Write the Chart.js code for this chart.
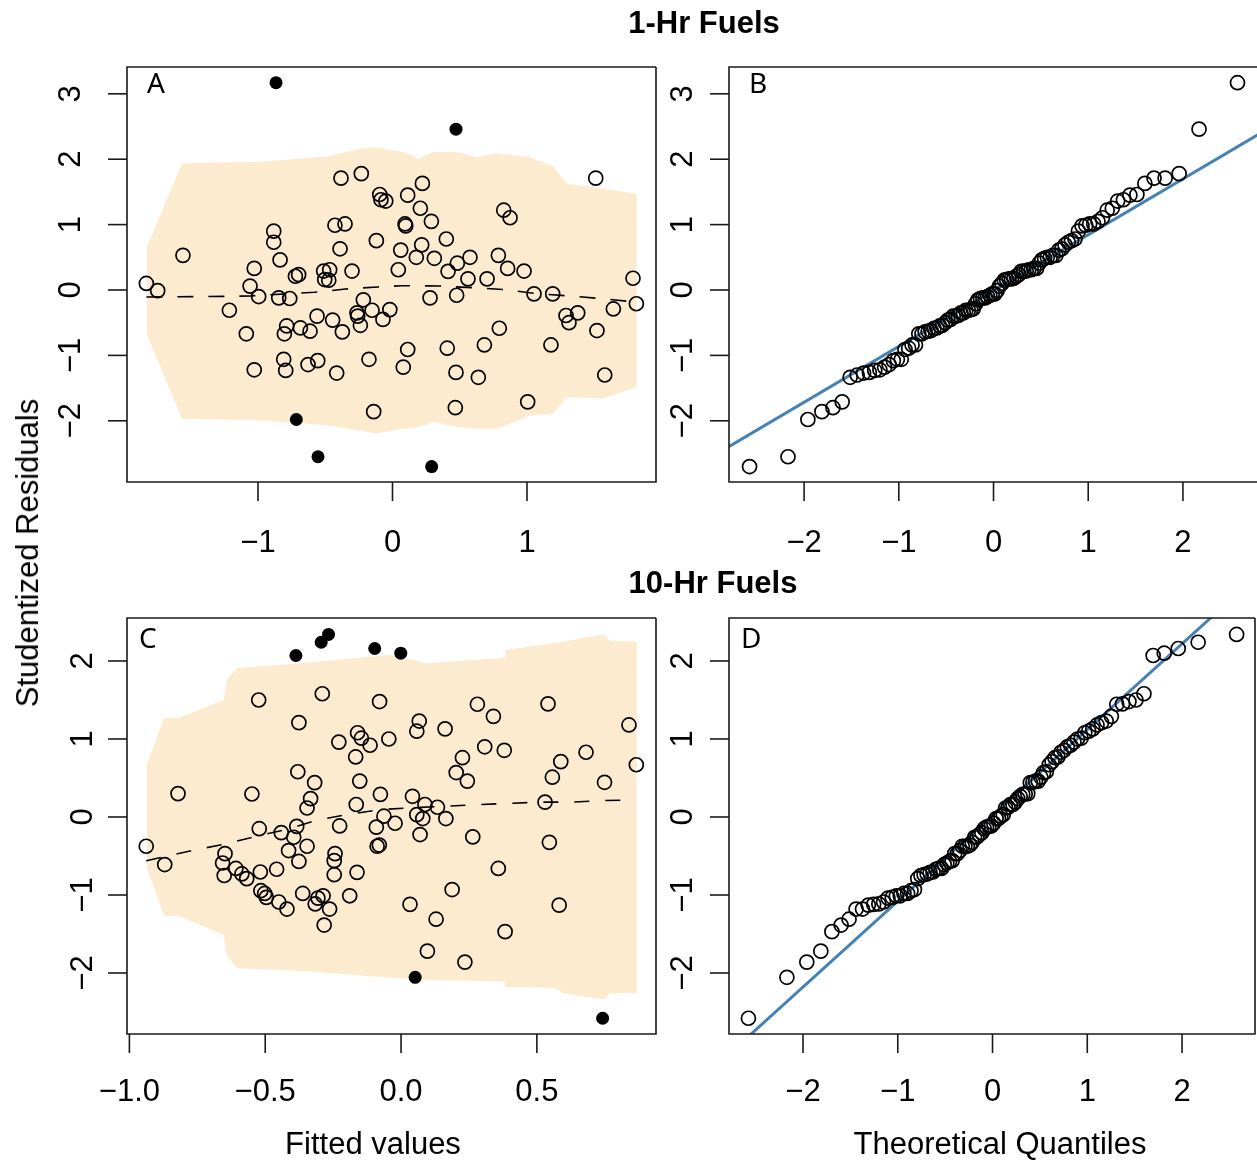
<!DOCTYPE html>
<html>
<head>
<meta charset="utf-8">
<script src="https://cdn.jsdelivr.net/npm/chart.js@4"></script>
<style>
  body { margin: 0; background: #fff; }
  #wrap { position: relative; width: 1257px; height: 1161px; overflow: hidden; }
  canvas { position: absolute; left: 0; top: 0; }
  .txt { position: absolute; transform: translate(-50%, -50%); white-space: nowrap;
         font-family: "Liberation Sans", Arial, Helvetica, sans-serif; font-size: 31px; color: #000; }
  .bold { font-weight: bold; }
  .rot { transform: translate(-50%, -50%) rotate(-90deg); }
</style>
</head>
<body>
<div id="wrap">
  <canvas id="pA" width="1257" height="1161"></canvas>
  <canvas id="pB" width="1257" height="1161"></canvas>
  <canvas id="pC" width="1257" height="1161"></canvas>
  <canvas id="pD" width="1257" height="1161"></canvas>
  <div class="txt bold" style="left:704px;top:23px">1-Hr Fuels</div>
  <div class="txt bold" style="left:713px;top:583px">10-Hr Fuels</div>
  <div class="txt rot" style="left:28px;top:553px">Studentized Residuals</div>
  <div class="txt" style="left:373px;top:1144px">Fitted values</div>
  <div class="txt" style="left:1000px;top:1144px">Theoretical Quantiles</div>
</div>
<script>
// ---- 1-Hr fuels: residuals vs fitted (panel A)
const aFitted = [-1.830,-1.746,-1.558,-1.213,-1.087,-1.028,-1.028,-1.059,-0.995,-0.883,-0.883,-0.836,-0.846,-0.764,-0.809,-0.794,-0.787,-0.804,-0.722,-0.698,-0.685,-0.613,-0.628,-0.556,-0.561,-0.512,-0.467,-0.504,-0.474,-0.445,-0.373,-0.415,-0.428,-0.353,-0.383,-0.232,-0.390,-0.301,-0.217,-0.264,-0.259,-0.239,-0.152,-0.071,-0.020,-0.175,-0.140,-0.120,-0.095,-0.086,-0.050,
  0.222,0.113,0.207,0.093,0.098,0.289,0.400,0.061,0.217,0.177,0.311,0.043,0.413,0.482,0.576,0.561,0.703,0.787,0.856,0.978,0.827,0.874,0.279,0.477,1.052,1.191,1.511,1.788,1.813,1.642,1.290,1.377,1.312,1.520,0.794,0.683,1.178,0.113,0.407,0.080,0.472,0.638,1.578,0.467,1.005]
const aResid = [0.10,-0.01,0.53,-0.31,-0.67,-1.22,0.33,0.06,-0.10,0.90,0.73,0.46,-0.12,-0.13,-1.06,-1.23,-0.55,-0.67,0.21,0.235,-0.58,-0.63,-1.14,-1.08,-0.40,0.29,0.31,0.16,0.15,-0.46,-0.64,-1.27,0.99,1.01,1.71,1.78,0.63,0.29,-0.15,-0.35,-0.40,-0.54,-0.31,-0.45,-0.30,-1.06,-1.86,0.755,1.46,1.38,1.36,
  1.63,1.45,1.25,1.01,0.98,1.05,0.78,0.61,0.69,0.50,0.485,0.31,0.285,0.41,0.50,0.17,0.17,0.53,0.33,0.29,1.22,1.105,-0.12,-0.08,-0.06,-0.06,1.71,0.18,-0.21,-0.29,-0.39,-0.35,-0.50,-0.62,-0.585,-0.84,-0.84,-0.91,-0.89,-1.18,-1.26,-1.335,-1.30,-1.80,-1.71]
const aOutFitted = [-0.866,-0.715,-0.554,0.472,0.291]
const aOutResid = [3.17,-1.98,-2.55,2.46,-2.70]
const aSmoothX = [-1.83,-1.25,-1.05,-0.58,-0.35,-0.11,0.07,0.35,0.60,0.84,1.07,1.31,1.54,1.79]
const aSmoothY = [-0.107,-0.097,-0.09,-0.035,0.015,0.046,0.066,0.06,0.035,0.005,-0.056,-0.09,-0.13,-0.18]
const aBandX = [-1.825,-1.565,-0.983,-0.487,-0.239,-0.127,0.081,0.192,0.303,0.477,0.626,0.774,1.022,1.196,1.295,1.568,1.816]
const aBandUpper = [0.66,1.94,1.96,2.04,2.16,2.18,2.11,2.01,2.11,2.11,2.03,2.09,2.03,1.89,1.63,1.55,1.47]
const aBandLower = [-0.69,-1.97,-1.99,-2.07,-2.15,-2.20,-2.12,-2.10,-2.02,-2.09,-2.12,-2.12,-1.92,-1.89,-1.64,-1.66,-1.48]

// ---- normal QQ plots (panels B and D), 100 points each
const theoQuantiles = [-2.576,-2.170,-1.960,-1.812,-1.695,-1.598,-1.514,-1.440,-1.372,-1.311,-1.254,-1.200,-1.150,-1.103,-1.058,-1.015,-0.974,-0.935,-0.896,-0.860,-0.824,-0.789,-0.755,-0.722,-0.690,-0.659,-0.628,-0.598,-0.568,-0.539,-0.510,-0.482,-0.454,-0.426,-0.399,-0.372,-0.345,-0.319,-0.292,-0.266,-0.240,-0.215,-0.189,-0.164,-0.138,-0.113,-0.088,-0.063,-0.038,-0.013,
  0.013,0.038,0.063,0.088,0.113,0.138,0.164,0.189,0.215,0.240,0.266,0.292,0.319,0.345,0.372,0.399,0.426,0.454,0.482,0.510,0.539,0.568,0.598,0.628,0.659,0.690,0.722,0.755,0.789,0.824,0.860,0.896,0.935,0.974,1.015,1.058,1.103,1.150,1.200,1.254,1.311,1.372,1.440,1.514,1.598,1.695,1.812,1.960,2.170,2.576]
const bSample = [-2.70,-2.55,-1.98,-1.86,-1.80,-1.71,-1.335,-1.30,-1.27,-1.26,-1.23,-1.22,-1.18,-1.14,-1.08,-1.06,-1.06,-0.91,-0.89,-0.84,-0.84,-0.67,-0.67,-0.64,-0.63,-0.62,-0.585,-0.58,-0.55,-0.54,-0.50,-0.46,-0.45,-0.40,-0.40,-0.39,-0.35,-0.35,-0.31,-0.31,-0.30,-0.29,-0.21,-0.15,-0.13,-0.12,-0.12,-0.10,-0.08,-0.06,-0.06,-0.01,
  0.06,0.10,0.15,0.16,0.17,0.17,0.18,0.21,0.235,0.285,0.29,0.29,0.31,0.31,0.33,0.33,0.41,0.46,0.485,0.50,0.50,0.53,0.53,0.61,0.63,0.69,0.73,0.755,0.78,0.90,0.98,0.99,1.01,1.01,1.05,1.105,1.22,1.25,1.36,1.38,1.45,1.46,1.63,1.71,1.71,1.78,2.46,3.17]
const bLineX = [-2.8, 2.8]
const bLineY = [-2.40, 2.38]

// ---- 10-Hr fuels: residuals vs fitted (panel C)
const cFitted = [-0.524,-0.290,-0.079,-0.376,-0.160,-0.146,-0.114,-0.229,-0.167,-0.045,-0.380,-0.318,-0.152,-0.821,-0.549,-0.333,-0.346,-0.165,-0.076,-0.063,-0.091,-0.226,-0.088,-0.080,-0.522,-0.441,-0.384,-0.395,-0.346,-0.414,-0.376,-0.243,-0.246,-0.246,-0.162,-0.938,-0.870,-0.648,-0.657,-0.651,-0.608,-0.586,-0.568,-0.518,-0.458,-0.516,-0.502,-0.496,-0.450,-0.420,-0.362,-0.316,-0.306,-0.287,-0.263,-0.283,-0.189,
  0.281,0.340,0.541,0.839,0.067,0.058,0.162,0.308,0.380,0.681,0.226,0.588,0.203,0.244,0.557,0.866,0.749,0.042,0.088,0.134,0.530,0.058,0.080,0.165,-0.022,0.070,0.264,0.546,0.358,0.188,0.033,0.582,0.129,0.383,0.097,0.235]
const cResid = [1.50,1.58,1.48,1.21,1.08,1.01,0.92,0.96,0.77,1.00,0.58,0.44,0.46,0.30,0.295,0.235,0.115,0.16,0.29,0.01,-0.13,-0.115,-0.375,-0.36,-0.15,-0.20,-0.12,-0.26,-0.375,-0.43,-0.57,-0.47,-0.56,-0.74,-0.71,-0.375,-0.61,-0.47,-0.59,-0.75,-0.66,-0.73,-0.79,-0.705,-0.67,-0.945,-0.98,-1.03,-1.09,-1.18,-0.98,-1.115,-1.04,-1.01,-1.18,-1.385,-1.01,
  1.445,1.29,1.45,1.18,1.23,1.10,1.13,0.90,0.855,0.83,0.76,0.71,0.57,0.46,0.51,0.67,0.445,0.265,0.16,0.125,0.19,0.03,-0.02,-0.02,-0.08,-0.225,-0.255,-0.325,-0.66,-0.93,-1.12,-1.13,-1.31,-1.47,-1.72,-1.86]
const cOutFitted = [-0.387,-0.294,-0.267,-0.097,-0.001,0.052,0.742]
const cOutResid = [2.07,2.24,2.34,2.16,2.10,-2.055,-2.58]
const cSmoothX = [-0.938,-0.770,-0.653,-0.536,-0.422,-0.309,-0.199,-0.080,0.045,0.162,0.278,0.395,0.506,0.628,0.745,0.866]
const cSmoothY = [-0.56,-0.43,-0.35,-0.25,-0.16,-0.04,0.03,0.094,0.12,0.137,0.158,0.175,0.19,0.19,0.21,0.22]
const cBandX = [-0.936,-0.872,-0.819,-0.653,-0.641,-0.604,-0.372,-0.04,0.096,0.383,0.384,0.567,0.597,0.744,0.770,0.868]
const cBandUpper = [0.67,1.27,1.27,1.50,1.76,1.91,1.97,2.08,1.97,2.04,2.14,2.23,2.25,2.34,2.26,2.25]
const cBandLower = [-0.65,-1.27,-1.27,-1.51,-1.77,-1.94,-1.97,-2.06,-2.09,-2.11,-2.18,-2.19,-2.26,-2.34,-2.26,-2.26]

const dSample = [-2.58,-2.055,-1.86,-1.72,-1.47,-1.385,-1.31,-1.18,-1.18,-1.13,-1.12,-1.115,-1.09,-1.04,-1.03,-1.01,-1.01,-0.98,-0.98,-0.945,-0.93,-0.79,-0.75,-0.74,-0.73,-0.71,-0.705,-0.67,-0.66,-0.66,-0.61,-0.59,-0.57,-0.56,-0.47,-0.47,-0.43,-0.375,-0.375,-0.375,-0.36,-0.325,-0.26,-0.255,-0.225,-0.20,-0.15,-0.13,-0.12,-0.115,-0.08,-0.02,-0.02,
  0.01,0.03,0.115,0.125,0.16,0.16,0.19,0.235,0.265,0.29,0.295,0.30,0.44,0.445,0.46,0.46,0.51,0.57,0.58,0.67,0.71,0.76,0.77,0.83,0.855,0.90,0.92,0.96,1.00,1.01,1.08,1.10,1.13,1.18,1.21,1.23,1.29,1.445,1.45,1.48,1.50,1.58,2.07,2.10,2.16,2.24,2.34]
const dLineX = [-2.8, 2.8]
const dLineY = [-3.06, 3.10]

// tick labels
const aTicksX = [-1, 0, 1]
const qqTicksX = [-2, -1, 0, 1, 2]
const cTicksX = [-1.0, -0.5, 0.0, 0.5]
const topTicksY = [-2, -1, 0, 1, 2, 3]
const bottomTicksY = [-2, -1, 0, 1, 2]

const BAND = '#fdebd0'
const QQBLUE = '#4682b4'
const FONT = '"Liberation Sans", Arial, Helvetica, sans-serif'

function pts(xs, ys){
    return xs.map((x, i) => ({x: x, y: ys[i]}))
}
function fmt(v, digits){
    return v.toFixed(digits).replace('-', '\u2212')
}

// R-like box, outward ticks, rotated y labels, panel letter
const rAxes = {
    id: 'rAxes',
    afterDraw(chart, args, o){
        const ctx = chart.ctx
        const a = chart.chartArea
        const xs = chart.scales.x, ys = chart.scales.y
        ctx.save()
        ctx.strokeStyle = '#1a1a1a'
        ctx.lineWidth = 1.6
        ctx.beginPath()
        ctx.moveTo(a.right, a.top); ctx.lineTo(a.left, a.top); ctx.lineTo(a.left, a.bottom); ctx.lineTo(a.right, a.bottom)
        if(!o.openRight) ctx.lineTo(a.right, a.top)
        ctx.stroke()
        ctx.fillStyle = '#000'
        ctx.font = '31px ' + FONT
        ctx.textAlign = 'center'
        ctx.textBaseline = 'middle'
        for(let v of o.xTicks){
            let px = xs.getPixelForValue(v)
            ctx.beginPath(); ctx.moveTo(px, a.bottom); ctx.lineTo(px, a.bottom + 19); ctx.stroke()
            ctx.fillText(fmt(v, o.xDigits), px, a.bottom + o.xLabGap)
        }
        for(let v of o.yTicks){
            let py = ys.getPixelForValue(v)
            ctx.beginPath(); ctx.moveTo(a.left, py); ctx.lineTo(a.left - 19, py); ctx.stroke()
            ctx.save()
            ctx.translate(a.left - o.yLabGap, py)
            ctx.rotate(-Math.PI / 2)
            ctx.fillText(fmt(v, 0), 0, 0)
            ctx.restore()
        }
        ctx.font = '28px "Noto Sans", "Open Sans", sans-serif'
        ctx.textAlign = 'left'
        ctx.fillText(o.letter, a.left + o.letterDx, a.top + o.letterDy)
        ctx.restore()
    }
}

function openPts(xs, ys){
    return {data: pts(xs, ys), pointRadius: 7, borderWidth: 1.7, borderColor: '#000',
            backgroundColor: 'rgba(0,0,0,0)', order: 0}
}
function filledPts(xs, ys){
    return {data: pts(xs, ys), pointRadius: 6.5, borderWidth: 0, borderColor: '#000',
            backgroundColor: '#000', order: 0}
}
function lineSet(xs, ys, color, width, dash){
    return {data: pts(xs, ys), showLine: true, pointRadius: 0, borderColor: color, borderWidth: width,
            borderDash: dash, fill: false, tension: 0, order: 1}
}
function bandSets(xs, up, lo){
    return [
        {data: pts(xs, up), showLine: true, pointRadius: 0, borderWidth: 0, borderColor: 'rgba(0,0,0,0)',
         backgroundColor: BAND, fill: '+1', tension: 0, order: 2},
        {data: pts(xs, lo), showLine: true, pointRadius: 0, borderWidth: 0, borderColor: 'rgba(0,0,0,0)',
         fill: false, tension: 0, order: 3}
    ]
}

function makePanel(id, box, xr, yr, datasets, axisOpts){
    new Chart(document.getElementById(id), {
        type: 'scatter',
        data: {datasets: datasets},
        options: {
            responsive: false,
            animation: false,
            devicePixelRatio: 1,
            events: [],
            layout: {autoPadding: false, padding: {left: box[0], top: box[1], right: 1257 - box[2], bottom: 1161 - box[3]}},
            scales: {
                x: {type: 'linear', min: xr[0], max: xr[1], display: false},
                y: {type: 'linear', min: yr[0], max: yr[1], display: false}
            },
            plugins: {legend: {display: false}, tooltip: {enabled: false}, rAxes: axisOpts}
        },
        plugins: [rAxes]
    })
}

makePanel('pA', [127, 67, 656, 482], [-1.974, 1.959], [-2.936, 3.41],
    [openPts(aFitted, aResid), filledPts(aOutFitted, aOutResid),
     lineSet(aSmoothX, aSmoothY, '#000', 1.6, [16, 15])].concat(bandSets(aBandX, aBandUpper, aBandLower)),
    {xTicks: aTicksX, xDigits: 0, yTicks: topTicksY, xLabGap: 61, yLabGap: 56, letter: 'A', letterDx: 20, letterDy: 18})

makePanel('pB', [729, 67, 1257, 482], [-2.793, 2.782], [-2.936, 3.41],
    [openPts(theoQuantiles, bSample), lineSet(bLineX, bLineY, QQBLUE, 3, [])],
    {xTicks: qqTicksX, xDigits: 0, yTicks: topTicksY, xLabGap: 61, yLabGap: 46, letter: 'B', letterDx: 20, letterDy: 18, openRight: true})

makePanel('pC', [127, 618, 656, 1034], [-1.0088, 0.9385], [-2.782, 2.551],
    [openPts(cFitted, cResid), filledPts(cOutFitted, cOutResid),
     lineSet(cSmoothX, cSmoothY, '#000', 1.6, [15, 16])].concat(bandSets(cBandX, cBandUpper, cBandLower)),
    {xTicks: cTicksX, xDigits: 1, yTicks: bottomTicksY, xLabGap: 58, yLabGap: 44, letter: 'C', letterDx: 12, letterDy: 22})

makePanel('pD', [729, 618, 1255, 1034], [-2.781, 2.770], [-2.782, 2.551],
    [openPts(theoQuantiles, dSample), lineSet(dLineX, dLineY, QQBLUE, 3, [])],
    {xTicks: qqTicksX, xDigits: 0, yTicks: bottomTicksY, xLabGap: 58, yLabGap: 46, letter: 'D', letterDx: 12, letterDy: 22})
</script>
</body>
</html>
